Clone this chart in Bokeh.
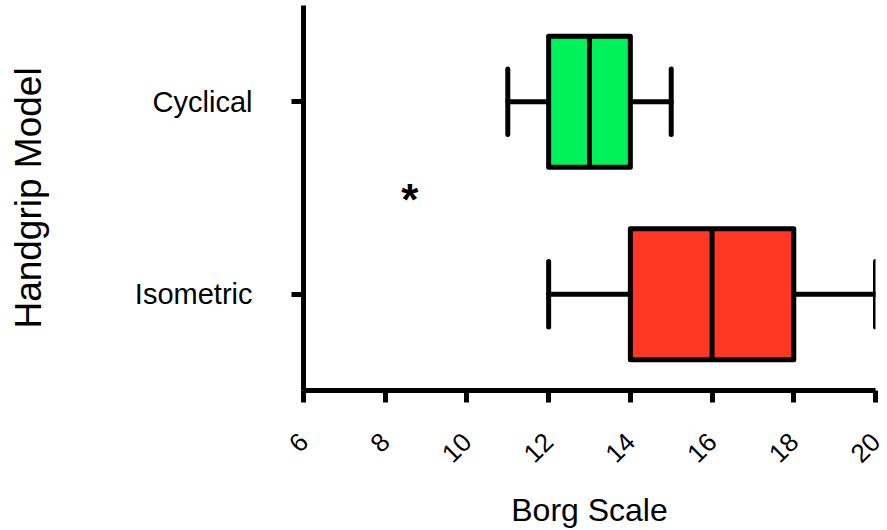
import math

from bokeh.embed import file_html
from bokeh.models import FixedTicker, Range1d
from bokeh.plotting import figure
from bokeh.resources import INLINE

# Borg scale ratings by handgrip model (five-number summaries)
models = ["Isometric", "Cyclical"]
model_pos = [1, 2]
whisker_low = [12, 11]
q1 = [14, 12]
median = [16, 13]
q3 = [18, 14]
whisker_high = [20, 15]
box_colors = ["#FF3823", "#00F25A"]

# significance marker between the two groups
marker_x = [8.6]
marker_y = [1.5]
marker_text = ["*"]

x_ticks = [6, 8, 10, 12, 14, 16, 18, 20]

BOX_HALF = 0.34
CAP_HALF = 0.17
LW = 5
FONT = "Liberation Sans"

p = figure(
    width=887,
    height=530,
    output_backend="svg",
    toolbar_location=None,
    x_range=Range1d(6, 20),
    y_range=Range1d(0.5, 2.5),
    min_border_left=303,
    min_border_right=12,
    min_border_top=5,
    min_border_bottom=140,
)
p.outline_line_color = None
p.xgrid.visible = False
p.ygrid.visible = False
p.background_fill_color = "white"
p.border_fill_color = "white"

# whiskers and caps
p.segment(x0=whisker_low, y0=model_pos, x1=q1, y1=model_pos,
          line_color="black", line_width=LW, line_cap="round")
p.segment(x0=q3, y0=model_pos, x1=whisker_high, y1=model_pos,
          line_color="black", line_width=LW, line_cap="round")
p.segment(x0=whisker_low, y0=[y - CAP_HALF for y in model_pos],
          x1=whisker_low, y1=[y + CAP_HALF for y in model_pos],
          line_color="black", line_width=LW, line_cap="round")
p.segment(x0=whisker_high, y0=[y - CAP_HALF for y in model_pos],
          x1=whisker_high, y1=[y + CAP_HALF for y in model_pos],
          line_color="black", line_width=LW, line_cap="round")

# boxes and medians
p.hbar(y=model_pos, left=q1, right=q3, height=2 * BOX_HALF,
       fill_color=box_colors, line_color="black", line_width=LW,
       line_join="round")
p.segment(x0=median, y0=[y - BOX_HALF for y in model_pos],
          x1=median, y1=[y + BOX_HALF for y in model_pos],
          line_color="black", line_width=LW)

p.text(x=marker_x, y=marker_y, text=marker_text,
       text_font={"value": FONT}, text_font_size="44px", text_font_style="bold",
       text_align="center", text_baseline="middle", y_offset=1,
       text_color="black")

# x axis
xa = p.xaxis[0]
xa.ticker = FixedTicker(ticks=x_ticks)
xa.minor_tick_line_color = None
xa.axis_line_width = LW
xa.major_tick_line_width = LW
xa.major_tick_out = 12
xa.major_tick_in = 0
xa.major_label_orientation = math.pi / 4
xa.major_label_text_font = FONT
xa.major_label_text_font_size = "26px"
xa.major_label_text_color = "black"
xa.major_label_standoff = 35
xa.axis_label = "Borg Scale"
xa.axis_label_text_font = FONT
xa.axis_label_text_font_size = "32px"
xa.axis_label_text_font_style = "normal"
xa.axis_label_text_color = "black"
xa.axis_label_standoff = 18

# y axis
ya = p.yaxis[0]
ya.ticker = FixedTicker(ticks=model_pos)
ya.major_label_overrides = {pos: name for pos, name in zip(model_pos, models)}
ya.minor_tick_line_color = None
ya.axis_line_width = LW
ya.major_tick_line_width = LW
ya.major_tick_out = 12
ya.major_tick_in = 0
ya.major_label_text_font = FONT
ya.major_label_text_font_size = "29px"
ya.major_label_text_color = "black"
ya.major_label_standoff = 39
ya.axis_label = "Handgrip Model"
ya.axis_label_text_font = FONT
ya.axis_label_text_font_size = "37px"
ya.axis_label_text_font_style = "normal"
ya.axis_label_text_color = "black"
ya.axis_label_standoff = 83

open("out.html", "w").write(file_html(p, INLINE))
